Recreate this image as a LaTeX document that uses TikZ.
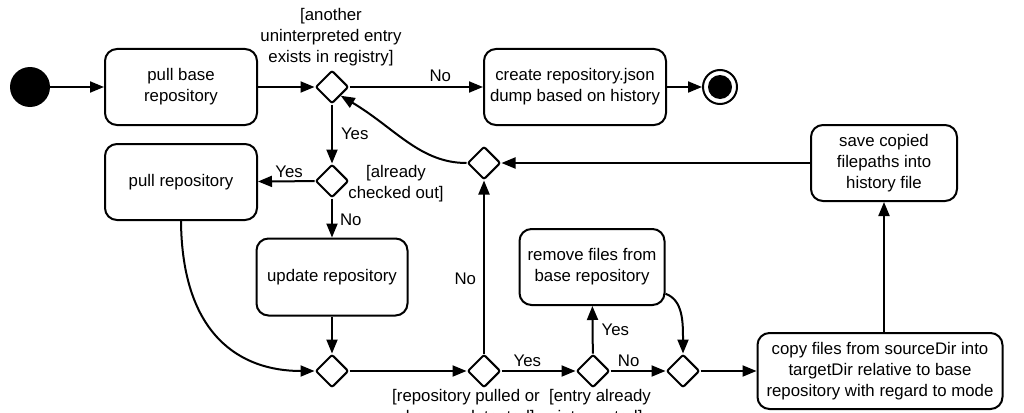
\documentclass[tikz,border=0pt]{standalone}
\usepackage{fontspec}
\setmainfont{Liberation Sans}
\usetikzlibrary{shapes.geometric,arrows.meta,calc}
\begin{document}
\begin{tikzpicture}[x=1pt,y=-1pt,
  every node/.style={font=\fontsize{16.8}{21}\selectfont},
  action/.style={draw,line width=2pt,rounded corners=12pt,align=center,inner sep=0pt},
  decision/.style={draw,diamond,line width=2pt,rounded corners=2pt,minimum width=33pt,minimum height=33pt,inner sep=0pt,fill=white},
  flow/.style={line width=2pt,-{Triangle[length=14pt,width=11pt]}},
  guard/.style={align=center,inner sep=0pt},
  lbl/.style={inner sep=0pt}
]
\useasboundingbox (0,0) rectangle (1024,412);
\clip (0,0) rectangle (1024,412);

% initial and final states
\node[circle,fill=black,minimum size=40pt,inner sep=0pt] (start) at (30,87) {};
\node[circle,draw,line width=2pt,minimum size=34pt,inner sep=0pt] (end) at (720,87) {};
\node[circle,fill=black,minimum size=24pt,inner sep=0pt] (endcore) at (720,87) {};

% actions
\node[action,minimum width=152pt,minimum height=76pt] (pullbase) at (181,87) {pull base\\repository};
\node[action,minimum width=182pt,minimum height=76pt] (dump) at (575,87) {create repository.json\\dump based on history};
\node[action,minimum width=146pt,minimum height=76pt] (save) at (884,163) {save copied\\filepaths into\\history file};
\node[action,minimum width=152pt,minimum height=76pt] (pullrepo) at (181,182) {pull repository};
\node[action,minimum width=151pt,minimum height=77pt] (update) at (332,277) {update repository};
\node[action,minimum width=145pt,minimum height=76pt] (remove) at (592,267) {remove files from\\base repository};
\node[action,minimum width=245pt,minimum height=76pt] (copy) at (880,371) {copy files from sourceDir into\\targetDir relative to base\\repository with regard to mode};

% decisions and merges
\node[decision] (d1) at (332,87) {};
\node[decision] (d2) at (332,181) {};
\node[decision] (d3) at (332,371) {};
\node[decision] (d4) at (484,371) {};
\node[decision] (d5) at (593,371) {};
\node[decision] (d6) at (683,371) {};
\node[decision] (d7) at (484,163) {};

% guards
\node[guard] (g1) at (331,37) {[another\\uninterpreted entry\\exists in registry]};
\node[guard] (g2) at (396,184) {[already\\checked out]};
\node[guard,anchor=north] (g3) at (466,389) {[repository pulled or\\changes detected]};
\node[guard,anchor=north] (g4) at (600,389) {[entry already\\interpreted]};

% control flow
\draw[flow] (start) -- (pullbase);
\draw[flow] (pullbase) -- (d1);
\draw[flow] (d1) -- node[lbl,pos=0.68,anchor=south,yshift=4pt] {No} (dump);
\draw[flow] (dump) -- (end);
\draw[flow] (d1) -- node[lbl,pos=0.5,anchor=west,xshift=8pt] {Yes} (d2);
\draw[flow] (d2) -- node[lbl,pos=0.45,anchor=south,yshift=3pt] {Yes} (pullrepo);
\draw[flow] (d2) -- node[lbl,pos=0.55,anchor=west,xshift=7pt] {No} (update);
\draw[flow] (update) -- (d3);
\draw[flow] (pullrepo.south) .. controls (182,335) and (240,371) .. (d3.west);
\draw[flow] (d3) -- (d4);
\draw[flow] (d4) -- node[lbl,pos=0.43,anchor=east,xshift=-7pt] {No} (d7);
\draw[flow] (d7.west) .. controls (420,163) and (395,128) .. (d1.south east);
\draw[flow] (save) -- (d7);
\draw[flow] (d4) -- node[lbl,pos=0.35,anchor=south,yshift=3pt] {Yes} (d5);
\draw[flow] (d5) -- node[lbl,pos=0.5,anchor=west,xshift=8pt] {Yes} (remove);
\draw[flow] (d5) -- node[lbl,pos=0.33,anchor=south,yshift=3pt] {No} (d6);
\draw[flow] (remove.-20) .. controls (683,300) and (683,322) .. (d6.north);
\draw[flow] (d6) -- (copy);
\draw[flow] (copy.north -| save.south) -- (save.south);
\end{tikzpicture}
\end{document}
